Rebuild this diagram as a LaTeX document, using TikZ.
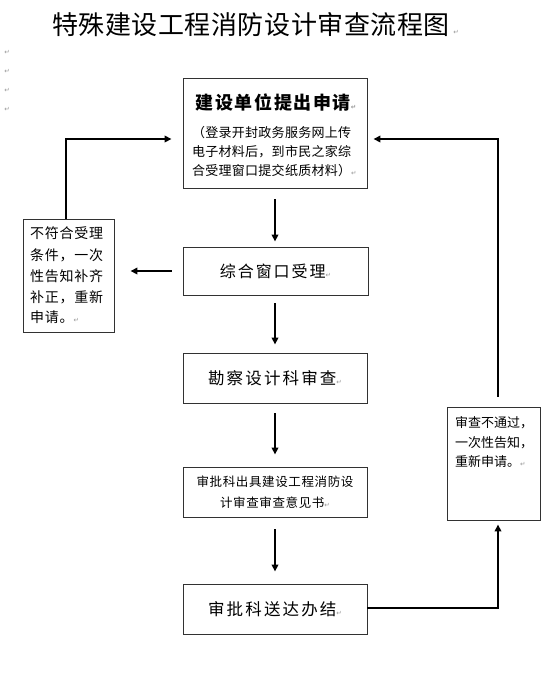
\documentclass[tikz,border=0pt]{standalone}
\usepackage{fontspec}
\usetikzlibrary{arrows.meta}
\newfontfamily\cjk{Noto Sans CJK SC}
\newfontfamily\dejavu{DejaVu Sans}
\definecolor{markgray}{RGB}{150,150,150}
\definecolor{boxgray}{RGB}{50,50,50}
\newcommand\pmk{{\dejavu\fontsize{6.5}{6.5}\selectfont\textcolor{markgray}{↵}}}
\newcommand\fsz[2]{\fontsize{#1}{#2}\selectfont}
\begin{document}
\begin{tikzpicture}[x=1pt,y=-1pt,
  box/.style={draw=boxgray, line width=0.9pt, inner sep=0pt, font=\cjk},
  conn/.style={line width=2pt, -{Triangle[length=7pt,width=6.5pt]}},
  txt/.style={inner sep=0pt, font=\cjk},
  pmark/.style={inner sep=0pt, font=\dejavu\fontsize{6.5}{6.5}\selectfont, text=markgray},
]
\useasboundingbox (0,0) rectangle (558,694);
\fill[white] (0,0) rectangle (558,694);

% title
\node[txt] (title) at (251,25) {\fsz{26}{30}\addfontfeatures{LetterSpace=2}特殊建设工程消防设计审查流程图};
\node[pmark] (tm) at (456,32) {↵};
\node[pmark] (m1) at (7,52) {↵};
\node[pmark] (m2) at (7,71) {↵};
\node[pmark] (m3) at (7,90) {↵};
\node[pmark] (m4) at (7,109) {↵};

% box 1
\node[box, minimum width=184pt, minimum height=110pt] (b1) at (275,133) {};
\node[txt] (b1h) at (276,103) {\bfseries\fsz{18}{20}\addfontfeatures{LetterSpace=9}建设单位提出申请\pmk};
\node[txt, anchor=west] (b1p1) at (192,133) {\fsz{13}{15}\addfontfeatures{LetterSpace=2}（登录开封政务服务网上传};
\node[txt, anchor=west] (b1p2) at (192,152) {\fsz{13}{15}\addfontfeatures{LetterSpace=2}电子材料后，到市民之家综};
\node[txt, anchor=west] (b1p3) at (192,171) {\fsz{13}{15}\addfontfeatures{LetterSpace=2}合受理窗口提交纸质材料）\pmk};

% box 2
\node[box, minimum width=185pt, minimum height=48pt] (b2) at (275.5,271)
  {\fsz{16}{18}\addfontfeatures{LetterSpace=12}综合窗口受理\pmk};

% box 3
\node[box, minimum width=184pt, minimum height=50pt] (b3) at (275,378)
  {\fsz{16.5}{18}\addfontfeatures{LetterSpace=13}勘察设计科审查\pmk};

% box 4
\node[box, minimum width=184pt, minimum height=50pt, align=center,
  font={\cjk\fsz{12.5}{21}\addfontfeatures{LetterSpace=5}}] (b4) at (275,492)
  {审批科出具建设工程消防设\\计审查审查意见书\pmk};

% box 5
\node[box, minimum width=184pt, minimum height=50pt] (b5) at (275,609)
  {\fsz{16.5}{18}\addfontfeatures{LetterSpace=13}审批科送达办结\pmk};

% left box
\node[box, minimum width=91pt, minimum height=113pt] (lb) at (68.5,275.5) {};
\node[txt, anchor=west] (lb1) at (30,233) {\fsz{14}{16}\addfontfeatures{LetterSpace=5}不符合受理};
\node[txt, anchor=west] (lb2) at (30,255) {\fsz{14}{16}\addfontfeatures{LetterSpace=5}条件，一次};
\node[txt, anchor=west] (lb3) at (30,276) {\fsz{14}{16}\addfontfeatures{LetterSpace=5}性告知补齐};
\node[txt, anchor=west] (lb4) at (30,297) {\fsz{14}{16}\addfontfeatures{LetterSpace=5}补正，重新};
\node[txt, anchor=west] (lb5) at (30,317) {\fsz{14}{16}\addfontfeatures{LetterSpace=5}申请。\pmk};

% right box
\node[box, minimum width=93pt, minimum height=113pt] (rb) at (493.5,463.5) {};
\node[txt, anchor=west] (rb1) at (455,423) {\fsz{13}{15}审查不通过，};
\node[txt, anchor=west] (rb2) at (455,443) {\fsz{13}{15}一次性告知，};
\node[txt, anchor=west] (rb3) at (455,462) {\fsz{13}{15}重新申请。\pmk};

% vertical arrows
\draw[conn] ([yshift=-11pt]b1.south) -- ([yshift=5pt]b2.north -| b1.south);
\draw[conn] ([yshift=-8pt]b2.south -| b1.south) -- ([yshift=8pt]b3.north);
\draw[conn] ([yshift=-10pt]b3.south) -- ([yshift=12pt]b4.north);
\draw[conn] ([yshift=-12pt]b4.south) -- ([yshift=12pt]b5.north);

% to left box
\draw[conn] ([xshift=-11pt]b2.west) -- ([xshift=16pt]lb.east |- b2.west);

% left loop back
\coordinate (c1) at (66,139);
\coordinate (b1l) at ([xshift=-11pt]b1.west);
\draw[conn] (lb.north -| c1) -- (c1) -- (c1 -| b1l);

% right bottom
\coordinate (c2) at (498,608);
\coordinate (rbb) at ([yshift=-4pt]rb.south);
\draw[conn] (b5.east |- c2) -- (c2) -- (c2 |- rbb);

% right top loop back
\coordinate (c3) at (498,139);
\coordinate (rbt) at ([yshift=10pt]rb.north);
\coordinate (b1r) at ([xshift=6pt]b1.east);
\draw[conn] (c3 |- rbt) -- (c3) -- (c3 -| b1r);
\end{tikzpicture}
\end{document}
